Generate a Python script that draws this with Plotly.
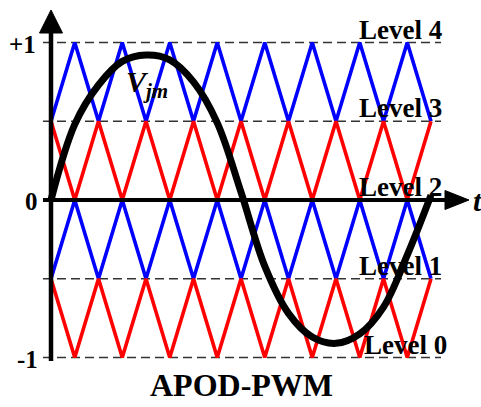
import plotly.graph_objects as go

# ---------------- data ----------------
# carrier time axis (in carrier periods), vertex points of the triangular carriers
carrier_t = [0.0, 0.5, 1.0, 1.5, 2.0, 2.5, 3.0, 3.5, 4.0, 4.5, 5.0, 5.5, 6.0, 6.5, 7.0, 7.5, 8.0]
carrier_blue_top = [0.5, 1.0, 0.5, 1.0, 0.5, 1.0, 0.5, 1.0, 0.5, 1.0, 0.5, 1.0, 0.5, 1.0, 0.5, 1.0, 0.5]
carrier_red_top = [0.5, 0.0, 0.5, 0.0, 0.5, 0.0, 0.5, 0.0, 0.5, 0.0, 0.5, 0.0, 0.5, 0.0, 0.5, 0.0, 0.5]
carrier_blue_bottom = [-0.5, 0.0, -0.5, 0.0, -0.5, 0.0, -0.5, 0.0, -0.5, 0.0, -0.5, 0.0, -0.5, 0.0, -0.5, 0.0, -0.5]
carrier_red_bottom = [-0.5, -1.0, -0.5, -1.0, -0.5, -1.0, -0.5, -1.0, -0.5, -1.0, -0.5, -1.0, -0.5, -1.0, -0.5, -1.0, -0.5]

# reference (modulating) signal
ref_t = [0.0, 0.5, 1.0, 1.5, 2.0, 2.5, 3.0, 3.5, 4.0, 4.5, 5.0, 5.5, 6.0, 6.5, 7.0, 7.5, 8.0]
ref_v = [0.0, 0.48, 0.73, 0.88, 0.92, 0.89, 0.75, 0.49, 0.05, -0.42, -0.72, -0.87, -0.91,
         -0.85, -0.68, -0.35, 0.03]

level_values = [-1.0, -0.5, 0.0, 0.5, 1.0]
level_labels = ["Level 0", "Level 1", "Level 2", "Level 3", "Level 4"]
tick_values = [1.0, 0.0, -1.0]
tick_labels = ["+1", "0", "-1"]
title_text = "APOD-PWM"
signal_label = "V<sub>jm</sub>"

# ---------------- geometry ----------------
W, H = 481, 407
X0_PX, PERIOD_PX = 51.0, 47.5
ZERO_PX, UNIT_PX = 200.0, 157.5


def t_of(px):
    return (px - X0_PX) / PERIOD_PX


def v_of(py):
    return (ZERO_PX - py) / UNIT_PX


def py_of_v(v):
    return ZERO_PX - v * UNIT_PX


x_range = [t_of(0), t_of(W)]
y_range = [v_of(H), v_of(0)]

FONT = "Liberation Serif, Times New Roman, Times, serif"
BLUE = "#0000FF"
RED = "#FF0000"

fig = go.Figure()

for vals, col in [(carrier_blue_top, BLUE), (carrier_red_top, RED),
                  (carrier_blue_bottom, BLUE), (carrier_red_bottom, RED)]:
    fig.add_trace(go.Scatter(x=carrier_t, y=vals, mode="lines",
                             line=dict(color=col, width=3.6), hoverinfo="skip"))

fig.add_trace(go.Scatter(x=ref_t, y=ref_v, mode="lines",
                         line=dict(color="black", width=7, shape="spline", smoothing=1.0),
                         hoverinfo="skip"))

shapes = []
# dashed level lines
for lv in level_values:
    if lv == 0:
        continue
    shapes.append(dict(type="line", xref="x", yref="y", layer="below",
                       x0=t_of(43), x1=t_of(441), y0=lv, y1=lv,
                       line=dict(color="#333333", width=1.6, dash="9px,5px")))

# horizontal axis with arrow
shapes.append(dict(type="line", xref="x", yref="y", layer="above",
                   x0=t_of(43), x1=t_of(447), y0=0, y1=0,
                   line=dict(color="black", width=4)))
ax_tip, ax_base, ax_half = t_of(469), t_of(445), 9.5 / UNIT_PX
shapes.append(dict(type="path", xref="x", yref="y", layer="above",
                   path=f"M {ax_base} {ax_half} L {ax_tip} 0 L {ax_base} {-ax_half} Z",
                   fillcolor="black", line=dict(color="black", width=1)))

# vertical axis with arrow
shapes.append(dict(type="line", xref="x", yref="y", layer="above",
                   x0=0, x1=0, y0=v_of(361), y1=v_of(31),
                   line=dict(color="black", width=4.5)))
ay_tip, ay_base, ay_half = v_of(10), v_of(33), 11.5 / PERIOD_PX
shapes.append(dict(type="path", xref="x", yref="y", layer="above",
                   path=f"M {-ay_half} {ay_base} L 0 {ay_tip} L {ay_half} {ay_base} Z",
                   fillcolor="black", line=dict(color="black", width=1)))

annotations = []
# level labels
for lv, lab in zip(level_values, level_labels):
    xc = 400 if lv != -1.0 else 405
    annotations.append(dict(x=xc / W, y=1 - (py_of_v(lv) - 13) / H, xref="paper", yref="paper",
                            text=lab, showarrow=False, xanchor="center", yanchor="middle",
                            font=dict(family=FONT, size=27, color="black", weight="bold")))
# tick labels
tick_x = {"+1": 22, "0": 31, "-1": 27}
for tv, tl in zip(tick_values, tick_labels):
    annotations.append(dict(x=tick_x[tl] / W, y=1 - (py_of_v(tv) + 1.5) / H, xref="paper", yref="paper",
                            text=tl, showarrow=False, xanchor="center", yanchor="middle",
                            font=dict(family=FONT, size=25, color="black", weight="bold")))
# signal label
annotations.append(dict(x=147 / W, y=1 - 84 / H, xref="paper", yref="paper",
                        text=f"<i>{signal_label}</i>", showarrow=False,
                        xanchor="center", yanchor="middle",
                        font=dict(family=FONT, size=30, color="black", weight="bold")))
# time axis label
annotations.append(dict(x=471 / W, y=1 - 201 / H, xref="paper", yref="paper",
                        text="<i>t</i>", showarrow=False, xanchor="left", yanchor="middle",
                        font=dict(family=FONT, size=30, color="black", weight="bold")))
# title
annotations.append(dict(x=241 / W, y=1 - 385 / H, xref="paper", yref="paper",
                        text=title_text, showarrow=False, xanchor="center", yanchor="middle",
                        font=dict(family=FONT, size=32, color="black", weight="bold")))

fig.update_layout(
    width=W, height=H,
    margin=dict(l=0, r=0, t=0, b=0, pad=0),
    paper_bgcolor="white", plot_bgcolor="white",
    showlegend=False,
    xaxis=dict(range=x_range, visible=False, fixedrange=True),
    yaxis=dict(range=y_range, visible=False, fixedrange=True),
    shapes=shapes,
    annotations=annotations,
)

fig.write_html("out.html", config={"displayModeBar": False})
